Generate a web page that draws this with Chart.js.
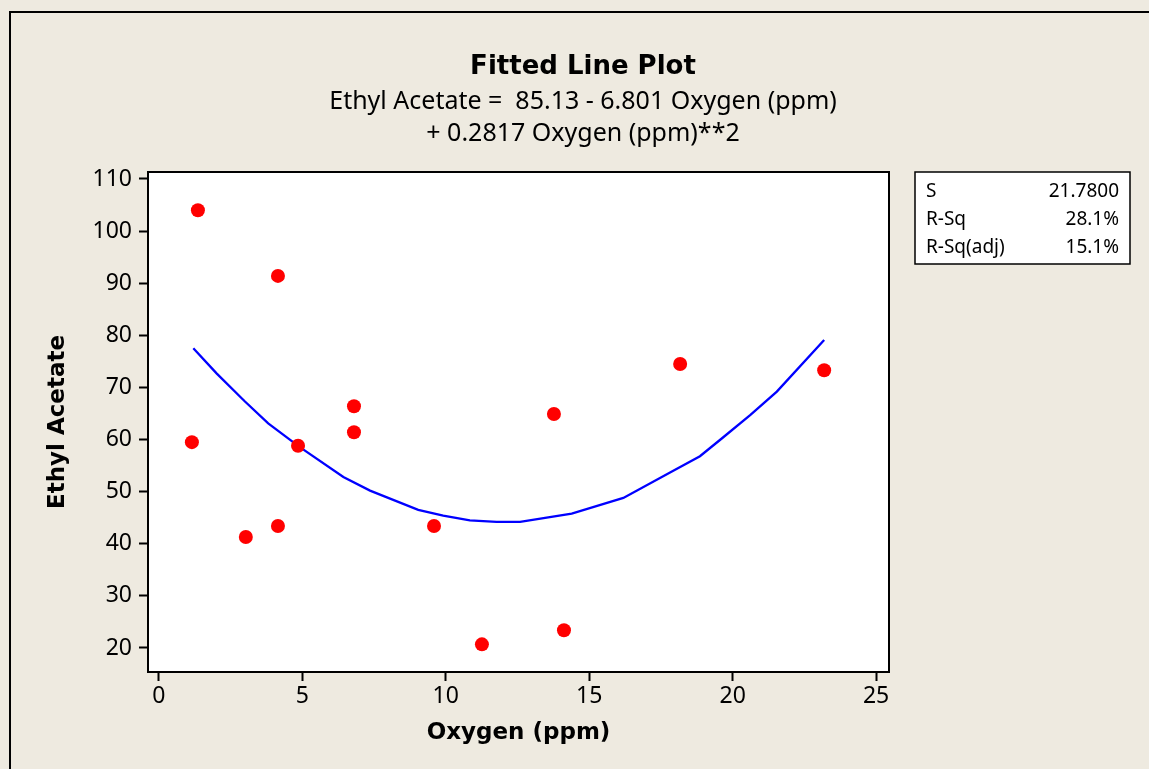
<!DOCTYPE html>
<html>
<head>
<meta charset="utf-8">
<script src="https://cdn.jsdelivr.net/npm/chart.js@4/dist/chart.umd.min.js"></script>
<style>
  html, body { margin: 0; padding: 0; background: #EEEAE0; overflow: hidden; }
  #frame { position: absolute; left: 9px; top: 11px; width: 1200px; height: 800px;
           border-left: 2px solid #000; border-top: 2px solid #000; }
  #wrap { position: absolute; left: 0; top: 0; width: 1149px; height: 769px; }
</style>
</head>
<body>
<div id="frame"></div>
<div id="wrap"><canvas id="fitChart" width="1149" height="769"></canvas></div>
<script>
// observed points
const oxygen = [1.36, 4.15, 1.15, 3.03, 4.15, 4.85, 6.8, 6.8, 9.59, 11.26, 13.77, 14.12, 18.17, 23.19];
const ethylAcetate = [104.0, 91.4, 59.5, 41.3, 43.4, 58.8, 66.4, 61.4, 43.4, 20.7, 64.9, 23.4, 74.5, 73.3];

// fitted line
const fitX = [1.2, 2.01, 3.0, 3.81, 4.9, 6.43, 7.36, 9.04, 9.91, 10.84, 11.77, 12.59, 14.39, 16.19, 17.93, 18.86, 19.62, 20.61, 21.54, 23.19];
const fitY = [77.5, 72.7, 67.3, 63.1, 58.6, 52.8, 50.2, 46.5, 45.4, 44.5, 44.2, 44.2, 45.8, 48.8, 54.0, 56.8, 60.2, 64.7, 69.2, 79.1];

const xTicks = [0, 5, 10, 15, 20, 25];
const yTicks = [20, 30, 40, 50, 60, 70, 80, 90, 100, 110];

const titleText = "Fitted Line Plot";
const subtitleLines = ["Ethyl Acetate =  85.13 - 6.801 Oxygen (ppm)", "+ 0.2817 Oxygen (ppm)**2"];
const statLabels = ["S", "R-Sq", "R-Sq(adj)"];
const statValues = ["21.7800", "28.1%", "15.1%"];

const FONT = "'Noto Sans', 'DejaVu Sans', sans-serif";
const BOLD = "'DejaVu Sans', Verdana, sans-serif";

const decor = {
  id: "decor",
  beforeDraw(chart) {
    const a = chart.chartArea;
    const ctx = chart.ctx;
    ctx.save();
    ctx.fillStyle = "#fff";
    ctx.fillRect(a.left, a.top, a.right - a.left, a.bottom - a.top);
    ctx.restore();
  },
  afterDraw(chart) {
    const ctx = chart.ctx;
    const a = chart.chartArea;
    ctx.save();
    // plot frame
    ctx.strokeStyle = "#000";
    ctx.lineWidth = 2;
    ctx.strokeRect(a.left, a.top, a.right - a.left, a.bottom - a.top);

    // titles
    ctx.fillStyle = "#000";
    ctx.textAlign = "center";
    ctx.textBaseline = "middle";
    ctx.font = "bold 26px " + BOLD;
    ctx.fillText(titleText, 583, 67);
    ctx.font = "25px " + FONT;
    ctx.fillText(subtitleLines[0], 583, 102);
    ctx.fillText(subtitleLines[1], 583, 134);

    // stats box
    ctx.fillStyle = "#fff";
    ctx.fillRect(915, 172, 215, 92);
    ctx.lineWidth = 1.5;
    ctx.strokeRect(915, 172, 215, 92);
    ctx.fillStyle = "#000";
    ctx.font = "19px " + FONT;
    statLabels.forEach((lab, i) => {
      const y = 192 + i * 28;
      ctx.textAlign = "left";
      ctx.fillText(lab, 926, y);
      ctx.textAlign = "right";
      ctx.fillText(statValues[i], 1119, y);
    });
    ctx.restore();
  }
};

const ctx = document.getElementById("fitChart");
const chart = new Chart(ctx, {
  type: "scatter",
  data: {
    datasets: [
      {
        label: "Fit",
        data: fitX.map((x, i) => ({ x: x, y: fitY[i] })),
        showLine: true,
        borderColor: "#0000FF",
        borderWidth: 2.3,
        pointRadius: 0,
        tension: 0,
        fill: false,
        order: 2
      },
      {
        label: "Data",
        data: oxygen.map((x, i) => ({ x: x, y: ethylAcetate[i] })),
        backgroundColor: "#FF0000",
        borderColor: "#FF0000",
        pointRadius: 7,
        borderWidth: 0,
        order: 1
      }
    ]
  },
  options: {
    responsive: false,
    animation: false,
    layout: { padding: { top: 172, right: 260, left: 0, bottom: 0 } },
    plugins: {
      legend: { display: false },
      tooltip: { enabled: false }
    },
    scales: {
      x: {
        type: "linear",
        min: -0.38,
        max: 25.45,
        afterBuildTicks: (s) => { s.ticks = xTicks.map((v) => ({ value: v })); },
        afterFit: (s) => { s.height = 97; },
        grid: { drawOnChartArea: false, tickLength: 9, tickColor: "#000", tickWidth: 2 },
        border: { color: "#000", width: 2 },
        ticks: { color: "#000", font: { family: FONT, size: 23 }, padding: 2, maxRotation: 0 },
        title: {
          display: true, text: "Oxygen (ppm)", color: "#000",
          font: { family: BOLD, size: 23, weight: "bold" },
          padding: { top: 0, bottom: 22 }
        }
      },
      y: {
        type: "linear",
        min: 15.39,
        max: 111.34,
        afterBuildTicks: (s) => { s.ticks = yTicks.map((v) => ({ value: v })); },
        afterFit: (s) => { s.width = 148; },
        grid: { drawOnChartArea: false, tickLength: 9, tickColor: "#000", tickWidth: 2 },
        border: { color: "#000", width: 2 },
        ticks: { color: "#000", font: { family: FONT, size: 23 }, padding: 7 },
        title: {
          display: true, text: "Ethyl Acetate", color: "#000",
          font: { family: BOLD, size: 23, weight: "bold" },
          padding: { top: 44, bottom: 0 }
        }
      }
    }
  },
  plugins: [decor]
});
</script>
</body>
</html>
